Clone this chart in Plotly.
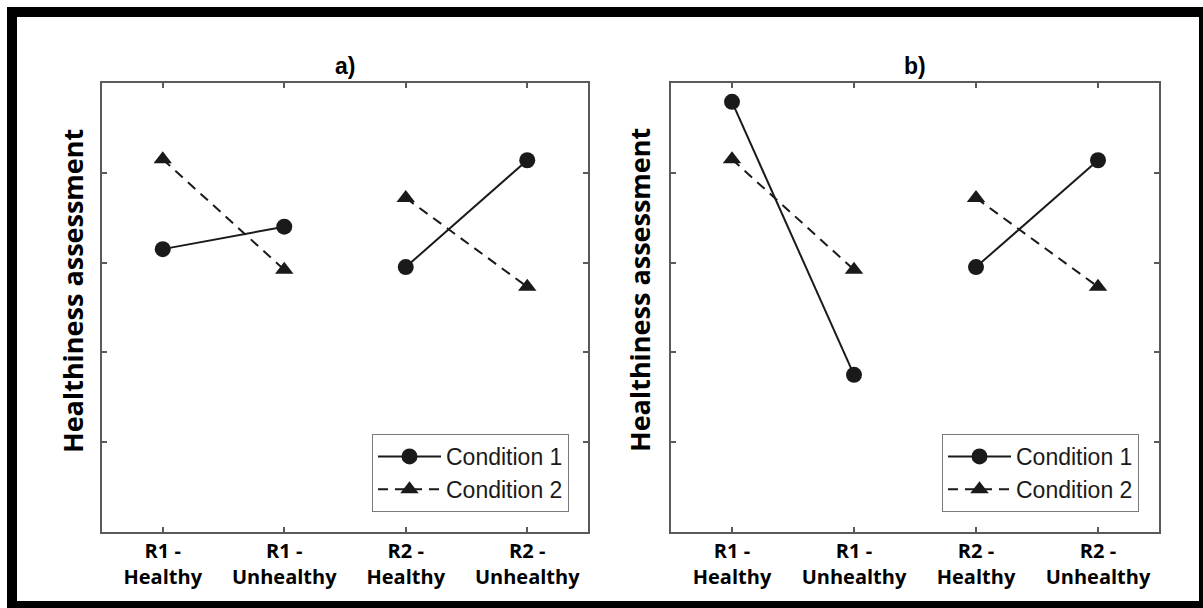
import plotly.graph_objects as go

# ---- data ----
categories = ["R1 -<br>Healthy", "R1 -<br>Unhealthy", "R2 -<br>Healthy", "R2 -<br>Unhealthy"]
cat_pos = [1, 2, 3, 4]
a_cond1 = [3.15, 3.40, 2.95, 4.14]
a_cond2 = [4.15, 2.92, 3.72, 2.73]
b_cond1 = [4.79, 1.75, 2.95, 4.14]
b_cond2 = [4.15, 2.92, 3.72, 2.73]
series_names = ["Condition 1", "Condition 2"]
panel_titles = ["a)", "b)"]
y_title = "Healthiness assessment"
y_ticks = [1, 2, 3, 4]

W, H = 1203, 608
def px(x):
    return x / W
def py(y):
    return 1 - y / H

fig = go.Figure()

panels = [(a_cond1, a_cond2, "x", "y", "legend"), (b_cond1, b_cond2, "x2", "y2", "legend2")]
for c1, c2, xa, ya, lg in panels:
    # R1 pair and R2 pair are separate segments
    xs = [cat_pos[0], cat_pos[1], None, cat_pos[2], cat_pos[3]]
    y1 = [c1[0], c1[1], None, c1[2], c1[3]]
    y2 = [c2[0], c2[1], None, c2[2], c2[3]]
    fig.add_trace(go.Scatter(
        x=xs, y=y1, xaxis=xa, yaxis=ya, legend=lg, name=series_names[0],
        mode="lines+markers",
        line=dict(color="#1a1a1a", width=2),
        marker=dict(symbol="circle", size=16, color="#1a1a1a"),
    ))
    fig.add_trace(go.Scatter(
        x=xs, y=y2, xaxis=xa, yaxis=ya, legend=lg, name=series_names[1],
        mode="lines+markers",
        line=dict(color="#1a1a1a", width=2, dash="10px,7px"),
        marker=dict(symbol="triangle-up", size=16, color="#1a1a1a"),
    ))

axis_color = "#5a5a5a"
tickfont = dict(family="Open Sans", size=20, color="black", weight="bold")
xcommon = dict(range=[0.5, 4.5], tickmode="array", tickvals=cat_pos, ticktext=categories,
               ticks="inside", ticklen=5, tickwidth=1.5, tickcolor=axis_color,
               showline=True, linecolor=axis_color, linewidth=1.5, mirror="ticks",
               showgrid=False, zeroline=False, tickfont=tickfont, fixedrange=True)
ycommon = dict(range=[0, 5], tickmode="array", tickvals=y_ticks, showticklabels=False,
               ticks="inside", ticklen=5, tickwidth=1.5, tickcolor=axis_color,
               showline=True, linecolor=axis_color, linewidth=1.5, mirror="ticks",
               showgrid=False, zeroline=False, fixedrange=True)

legend_common = dict(xanchor="right", yanchor="bottom",
                     bgcolor="white", bordercolor="#7a7a7a", borderwidth=1,
                     font=dict(family="Liberation Sans", size=23, color="#1a1a1a"),
                     itemwidth=63, tracegroupgap=0)

ytitle_font = dict(family="Open Sans", size=27, color="black", weight="bold")
title_font = dict(family="Liberation Sans", size=23, color="black", weight="bold")

fig.update_layout(
    width=W, height=H,
    margin=dict(l=0, r=0, t=0, b=0, autoexpand=False),
    paper_bgcolor="white", plot_bgcolor="rgba(0,0,0,0)",
    xaxis=dict(domain=[px(102), px(588)], anchor="y", **xcommon),
    yaxis=dict(domain=[py(532), py(83)], anchor="x", **ycommon),
    xaxis2=dict(domain=[px(671), px(1159)], anchor="y2", **xcommon),
    yaxis2=dict(domain=[py(532), py(83)], anchor="x2", **ycommon),
    legend=dict(x=px(569), y=py(512), **legend_common),
    legend2=dict(x=px(1139), y=py(512), **legend_common),
    showlegend=True,
    shapes=[
        dict(type="rect", xref="paper", yref="paper", x0=px(7), x1=px(1210), y0=py(615), y1=py(7),
             fillcolor="black", line=dict(width=0), layer="below"),
        dict(type="rect", xref="paper", yref="paper", x0=px(17), x1=px(1199), y0=py(601), y1=py(17),
             fillcolor="white", line=dict(width=0), layer="below"),
    ],
    annotations=[
        dict(text=panel_titles[0], xref="paper", yref="paper", x=px(345), y=py(66),
             xanchor="center", yanchor="middle", showarrow=False, font=title_font),
        dict(text=panel_titles[1], xref="paper", yref="paper", x=px(915), y=py(66),
             xanchor="center", yanchor="middle", showarrow=False, font=title_font),
        dict(text=y_title, xref="paper", yref="paper", x=px(72), y=py(291), textangle=-90,
             xanchor="center", yanchor="middle", showarrow=False, font=ytitle_font),
        dict(text=y_title, xref="paper", yref="paper", x=px(639), y=py(290), textangle=-90,
             xanchor="center", yanchor="middle", showarrow=False, font=ytitle_font),
    ],
)

fig.write_html("out.html")
